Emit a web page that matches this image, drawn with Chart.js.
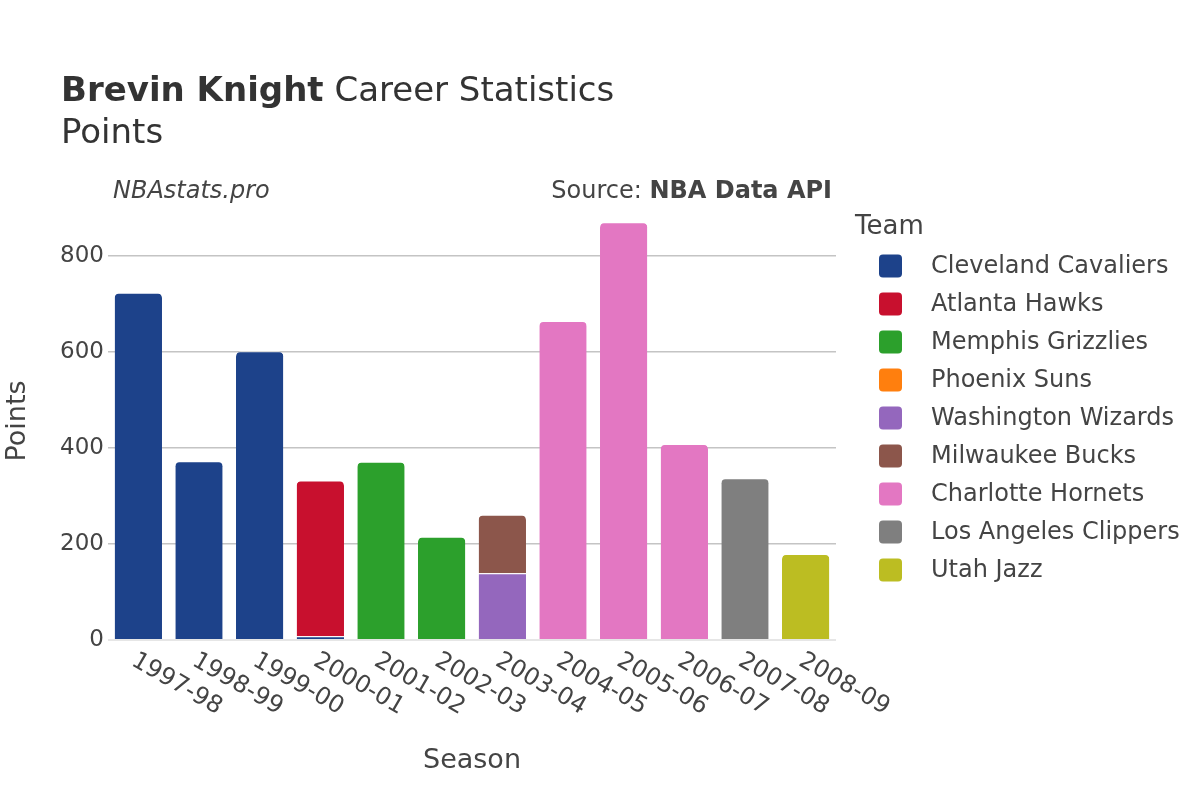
<!DOCTYPE html>
<html>
<head>
<meta charset="utf-8">
<script src="https://cdn.jsdelivr.net/npm/chart.js@4.4.0/dist/chart.umd.min.js"></script>
<style>
  html, body { margin: 0; padding: 0; background: #fff; }
  #wrap { width: 1200px; height: 800px; }
</style>
</head>
<body>
<div id="wrap"><canvas id="c" width="1200" height="800"></canvas></div>
<script>
const seasons = ["1997-98","1998-99","1999-00","2000-01","2001-02","2002-03","2003-04","2004-05","2005-06","2006-07","2007-08","2008-09"];
const teams = ["Cleveland Cavaliers","Atlanta Hawks","Memphis Grizzlies","Phoenix Suns","Washington Wizards","Milwaukee Bucks","Charlotte Hornets","Los Angeles Clippers","Utah Jazz"];
const teamColors = ["#1d428a","#c8102e","#2ca02c","#ff7f0e","#9467bd","#8c564b","#e377c2","#7f7f7f","#bcbd22"];
const clevelandPts  = [723, 372, 601, 8, null, null, null, null, null, null, null, null];
const atlantaPts    = [null, null, null, 324, null, null, null, null, null, null, null, null];
const memphisPts    = [null, null, null, null, 371, 215, null, null, null, null, null, null];
const phoenixPts    = [null, null, null, null, null, null, 2, null, null, null, null, null];
const washingtonPts = [null, null, null, null, null, null, 137, null, null, null, null, null];
const milwaukeePts  = [null, null, null, null, null, null, 122, null, null, null, null, null];
const charlottePts  = [null, null, null, null, null, null, null, 664, 870, 408, null, null];
const clippersPts   = [null, null, null, null, null, null, null, null, null, null, 337, null];
const utahPts       = [null, null, null, null, null, null, null, null, null, null, null, 179];
const yTicks = [0, 200, 400, 600, 800];

const seriesValues = [clevelandPts, atlantaPts, memphisPts, phoenixPts, washingtonPts, milwaukeePts, charlottePts, clippersPts, utahPts];

const FONT = '"DejaVu Sans", sans-serif';
const TEXT = '#444';

function isTopOfStack(dsIndex, i) {
  for (let k = dsIndex + 1; k < seriesValues.length; k++) {
    const v = seriesValues[k][i];
    if (v !== null && v !== undefined && v > 0) return false;
  }
  return true;
}

const datasets = teams.map((t, di) => ({
  label: t,
  data: seriesValues[di],
  backgroundColor: teamColors[di],
  borderColor: 'rgba(255,255,255,0.7)',
  borderWidth: {top: 1, left: 0, right: 0, bottom: 0},
  borderSkipped: 'start',
  borderRadius: (ctx) => {
    const r = isTopOfStack(ctx.datasetIndex, ctx.dataIndex) ? 5 : 0;
    return {topLeft: r, topRight: r, bottomLeft: 0, bottomRight: 0};
  },
  barPercentage: 0.78,
  categoryPercentage: 1.0
}));

const decor = {
  id: 'decor',
  beforeDraw(chart) {
    const ctx = chart.ctx;
    ctx.save();
    ctx.fillStyle = '#fff';
    ctx.fillRect(0, 0, chart.width, chart.height);
    ctx.restore();
  },
  afterDraw(chart) {
    const ctx = chart.ctx;
    const xs = chart.scales.x;
    ctx.save();
    // Title
    ctx.fillStyle = '#333';
    ctx.textBaseline = 'alphabetic';
    ctx.textAlign = 'left';
    ctx.font = 'bold 34px ' + FONT;
    const bold = 'Brevin Knight';
    ctx.fillText(bold, 61, 101);
    const bw = ctx.measureText(bold).width;
    ctx.font = '34px ' + FONT;
    ctx.fillText(' Career Statistics', 61 + bw, 101);
    ctx.fillText('Points', 61, 143);

    // annotations
    ctx.font = 'italic 24px ' + FONT;
    ctx.fillStyle = TEXT;
    ctx.textBaseline = 'middle';
    ctx.fillText('NBAstats.pro', 113, 192);
    ctx.font = 'bold 24px ' + FONT;
    const src2 = 'NBA Data API';
    const w2 = ctx.measureText(src2).width;
    ctx.textAlign = 'right';
    ctx.fillText(src2, 832, 192);
    ctx.font = '24px ' + FONT;
    ctx.fillText('Source: ', 832 - w2, 192);

    // x tick labels, rotated
    ctx.font = '24px ' + FONT;
    ctx.fillStyle = TEXT;
    ctx.textAlign = 'left';
    ctx.textBaseline = 'middle';
    chart.data.labels.forEach((lab, i) => {
      const x = xs.getPixelForValue(i);
      ctx.save();
      ctx.translate(x - 5, 659);
      ctx.rotate(Math.PI / 6);
      ctx.fillText(lab, 0, 0);
      ctx.restore();
    });

    // axis titles
    ctx.font = '27px ' + FONT;
    ctx.textAlign = 'center';
    ctx.textBaseline = 'middle';
    ctx.fillText('Season', (chart.chartArea.left + chart.chartArea.right) / 2, 761);
    ctx.save();
    ctx.translate(18, (chart.chartArea.top + chart.chartArea.bottom) / 2);
    ctx.rotate(-Math.PI / 2);
    ctx.fillText('Points', 0, 0);
    ctx.restore();

    // legend
    ctx.textAlign = 'left';
    ctx.textBaseline = 'middle';
    ctx.font = '26px ' + FONT;
    ctx.fillStyle = TEXT;
    ctx.fillText('Team', 855, 227);
    ctx.font = '24px ' + FONT;
    chart.data.datasets.forEach((ds, i) => {
      const cy = 266 + i * 38;
      ctx.fillStyle = ds.backgroundColor;
      ctx.beginPath();
      ctx.roundRect(879, cy - 11.5, 23, 23, 4);
      ctx.fill();
      ctx.fillStyle = TEXT;
      ctx.fillText(ds.label, 931, cy + 1);
    });
    ctx.restore();
  }
};

new Chart(document.getElementById('c'), {
  type: 'bar',
  data: { labels: seasons, datasets },
  options: {
    responsive: false,
    animation: false,
    layout: { padding: { left: 0, right: 364, top: 202, bottom: 0 } },
    plugins: { legend: { display: false }, tooltip: { enabled: false }, title: { display: false } },
    scales: {
      x: {
        stacked: true,
        grid: { display: false, drawTicks: false },
        border: { display: false },
        ticks: { display: false },
        afterFit(scale) { scale.height = 160; }
      },
      y: {
        stacked: true,
        min: 0,
        max: 912,
        border: { display: false },
        grid: {
          drawTicks: false,
          color: (c) => c.tick && c.tick.value === 0 ? '#e6e6e6' : '#c4c4c4',
          lineWidth: (c) => c.tick && c.tick.value === 0 ? 2 : 1.4
        },
        ticks: {
          font: { family: FONT, size: 23 },
          color: TEXT,
          padding: 4
        },
        afterBuildTicks(scale) {
          scale.ticks = yTicks.map(v => ({ value: v }));
        },
        afterFit(scale) { scale.width = 108; }
      }
    }
  },
  plugins: [decor]
});
</script>
</body>
</html>
